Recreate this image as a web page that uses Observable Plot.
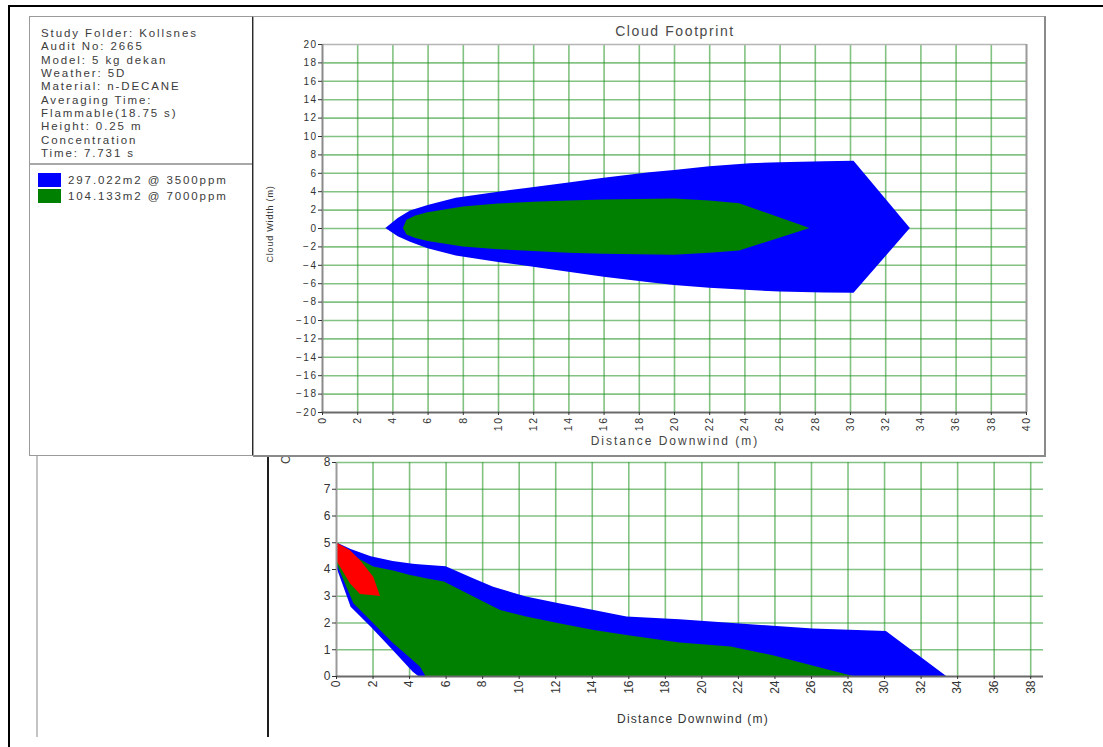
<!DOCTYPE html>
<html><head><meta charset="utf-8">
<script src="https://cdn.jsdelivr.net/npm/d3@7"></script>
<script src="https://cdn.jsdelivr.net/npm/@observablehq/plot@0.6"></script>
<style>
body{margin:0;background:#fff;font-family:"Liberation Sans",Arial,sans-serif;}
#page{position:relative;width:1103px;height:747px;overflow:hidden;background:#fff;}
.abs{position:absolute;}
.lbl{white-space:nowrap;color:#444;}
#info .line{height:13.35px;line-height:13.35px;font-size:11.5px;letter-spacing:1.9px;color:#3c3c3c;white-space:nowrap;}
</style></head>
<body><div id="page">
  <div id="bottomChart" class="abs" style="left:270px;top:440px;z-index:1"></div>
  <div class="abs lbl" id="bylabel" style="left:279px;top:464px;transform-origin:0 0;transform:rotate(-90deg);font-size:12px;letter-spacing:1px;color:#444;z-index:1"></div>
  <div class="abs" style="left:36px;top:455px;width:2px;height:282px;background:#c4c4c4;z-index:2"></div>
  <div class="abs" style="left:267px;top:455px;width:2px;height:282px;background:#1e1e1e;z-index:2"></div>
  <div class="abs lbl" id="bxlabel" style="left:693px;top:712px;transform:translateX(-50%);font-size:12px;letter-spacing:1.2px;color:#333;z-index:2"></div>

  <div id="info" class="abs" style="left:29px;top:16px;width:222px;height:438px;border:1px solid #9a9a9a;border-right:2px solid #2a2a2a;background:#fff;z-index:3">
    <div id="infoText" style="position:absolute;left:11px;top:10px;"></div>
    <div style="position:absolute;left:0;top:146px;width:222px;height:2px;background:#a8a8a8"></div>
    <div id="legend" style="position:absolute;left:8px;top:155px;"></div>
  </div>

  <div id="topPanel" class="abs" style="left:253px;top:16px;width:790px;height:438px;border:1px solid #a0a0a0;border-right:2px solid #8a8a8a;border-bottom:2px solid #8a8a8a;background:#fff;z-index:3"></div>
  <div id="topChart" class="abs" style="left:254px;top:17px;z-index:4"></div>
  <div class="abs lbl" id="title" style="left:675px;top:23px;transform:translateX(-50%);font-size:14px;letter-spacing:1.6px;color:#4a4a4a;z-index:5"></div>
  <div class="abs lbl" id="txlabel" style="left:675px;top:434px;transform:translateX(-50%);font-size:12px;letter-spacing:2px;color:#444;z-index:5"></div>
  <div class="abs lbl" id="tylabel" style="left:270px;top:224px;transform:translate(-50%,-50%) rotate(-90deg);font-size:9px;letter-spacing:0.8px;color:#333;z-index:5"></div>

  <div class="abs" style="left:8px;top:5px;width:1095px;height:2px;background:#000;z-index:6"></div>
  <div class="abs" style="left:8px;top:5px;width:2px;height:742px;background:#000;z-index:6"></div>
</div>
<script>
// ---------- texts ----------
const infoLines = ["Study Folder: Kollsnes","Audit No: 2665","Model: 5 kg dekan","Weather: 5D","Material: n-DECANE","Averaging Time:","Flammable(18.75 s)","Height: 0.25 m","Concentration","Time: 7.731 s"];
const legendLabels = ["297.022m2 @ 3500ppm","104.133m2 @ 7000ppm"];
const legendColors = ["#0000ff","#008000"];
const topTitle = "Cloud Footprint";
const xLabel = "Distance Downwind (m)";
const topYLabel = "Cloud Width (m)";
const sideYLabel = "Cloud Height (m)";

// ---------- top chart: cloud footprint (plan view) ----------
const footTicksX = d3.range(0, 41, 2);
const footTicksY = d3.range(-20, 21, 2);
const blueX    = [3.6, 4.3, 5.0, 6.0, 7.6, 10.0, 11.6, 14.0, 16.0, 18.6, 20.0, 22.0, 24.3, 26.0, 28.5, 30.2, 33.4];
const blueUp   = [0, 1.1, 1.9, 2.5, 3.3, 3.95, 4.35, 4.95, 5.45, 6.05, 6.3, 6.7, 7.05, 7.15, 7.25, 7.3, 0];
const blueDown = [0, -0.9, -1.5, -2.2, -3.0, -3.7, -4.1, -4.75, -5.3, -5.9, -6.2, -6.5, -6.75, -6.9, -7.0, -7.05, 0];
const greenX    = [4.6, 4.8, 5.3, 6.0, 8.0, 10.0, 12.0, 14.0, 16.0, 18.0, 20.0, 22.0, 23.7, 27.7];
const greenUp   = [0, 0.9, 1.35, 1.7, 2.35, 2.65, 2.85, 3.0, 3.1, 3.15, 3.2, 3.0, 2.7, 0];
const greenDown = [0, -0.7, -1.1, -1.4, -2.0, -2.3, -2.5, -2.7, -2.8, -2.85, -2.9, -2.7, -2.45, 0];

// ---------- bottom chart: cloud height (side view) ----------
const sideTicksX = d3.range(0, 39, 2);
const sideTicksY = d3.range(0, 9, 1);
const sBlueX  = [0, 0.8, 1.9, 3.1, 4.2, 4.5, 6.0, 7.5, 8.6, 10.4, 12.2, 14.1, 15.9, 18.8, 21.9, 26.1, 30.1, 33.4];
const sBlueHi = [5.0, 4.75, 4.48, 4.3, 4.2, 4.18, 4.1, 3.65, 3.34, 2.97, 2.72, 2.47, 2.22, 2.12, 1.97, 1.78, 1.68, 0];
const sBlueLo = [4.1, 2.59, 1.84, 0.97, 0.16, 0, 0, 0, 0, 0, 0, 0, 0, 0, 0, 0, 0, 0];
const sGreenX  = [0, 0.95, 2.04, 3.13, 4.05, 4.6, 4.9, 5.9, 7.52, 8.98, 10.4, 12.2, 14.1, 15.9, 18.8, 21.6, 23.9, 28.3];
const sGreenHi = [5.0, 4.5, 4.09, 3.94, 3.78, 3.7, 3.65, 3.53, 2.97, 2.47, 2.22, 1.97, 1.72, 1.53, 1.25, 1.1, 0.78, 0];
const sGreenLo = [4.25, 2.72, 1.97, 1.22, 0.68, 0.35, 0, 0, 0, 0, 0, 0, 0, 0, 0, 0, 0, 0];
const sRedX  = [0, 0.77, 1.31, 2.04, 2.41];
const sRedHi = [5.0, 4.7, 4.34, 3.71, 2.99];
const sRedLo = [4.34, 3.46, 3.07, 3.02, 2.99];

// ---------- text placement ----------
document.getElementById("infoText").innerHTML = infoLines.map(t => `<div class="line">${t}</div>`).join("");
document.getElementById("legend").innerHTML = legendLabels.map((t, i) =>
  `<div style="display:flex;align-items:center;height:16px;"><span style="display:inline-block;width:23px;height:14px;background:${legendColors[i]};margin-right:7px"></span><span style="font-size:11.5px;letter-spacing:1.9px;color:#3c3c3c;white-space:nowrap">${t}</span></div>`).join("");
document.getElementById("title").textContent = topTitle;
document.getElementById("txlabel").textContent = xLabel;
document.getElementById("bxlabel").textContent = xLabel;
document.getElementById("tylabel").textContent = topYLabel;
document.getElementById("bylabel").textContent = sideYLabel;

const rows = (xs, lo, hi) => xs.map((x, i) => ({x, y1: lo[i], y2: hi[i]}));
const gridStyle = {stroke: "#2f9a2f", strokeOpacity: 0.6, strokeWidth: 1.6};

// top chart
const topPlot = Plot.plot({
  width: 790, height: 437,
  marginLeft: 68, marginRight: 18, marginTop: 27, marginBottom: 42,
  style: {background: "transparent", fontFamily: "Liberation Sans, Arial, sans-serif", fontSize: "10px", color: "#333", letterSpacing: "1.5px"},
  x: {domain: [0, 40]},
  y: {domain: [-20, 20]},
  marks: [
    Plot.ruleX(footTicksX.filter(d => d > 0 && d < 40), {...gridStyle}),
    Plot.ruleY(footTicksY.filter(d => d > -20 && d < 20), {...gridStyle}),
    Plot.areaY(rows(blueX, blueDown, blueUp), {x: "x", y1: "y1", y2: "y2", fill: "#0000ff"}),
    Plot.areaY(rows(greenX, greenDown, greenUp), {x: "x", y1: "y1", y2: "y2", fill: "#008000"}),
    Plot.ruleY([20], {stroke: "#b5b5b5", strokeWidth: 1.5}),
    Plot.ruleX([40], {stroke: "#9a9a9a", strokeWidth: 2}),
    Plot.ruleX([0], {stroke: "#8a8a8a", strokeWidth: 2}),
    Plot.ruleY([-20], {stroke: "#6a6a6a", strokeWidth: 2}),
    Plot.axisX({ticks: footTicksX, tickRotate: -90, tickSize: 3, tickPadding: 1, label: null, fontSize: 10.5}),
    Plot.axisY({ticks: footTicksY, tickSize: 4, tickPadding: 1, label: null})
  ]
});
document.getElementById("topChart").appendChild(topPlot);

// bottom chart
const sidePlot = Plot.plot({
  width: 833, height: 307,
  marginLeft: 66, marginRight: 60, marginTop: 22, marginBottom: 71,
  style: {background: "transparent", fontFamily: "Liberation Sans, Arial, sans-serif", fontSize: "12px", color: "#333"},
  x: {domain: [0, 38.7]},
  y: {domain: [0, 8]},
  marks: [
    Plot.ruleX(sideTicksX.filter(d => d > 0), {...gridStyle}),
    Plot.ruleY(sideTicksY.filter(d => d > 0), {...gridStyle}),
    Plot.areaY(rows(sBlueX, sBlueLo, sBlueHi), {x: "x", y1: "y1", y2: "y2", fill: "#0000ff"}),
    Plot.areaY(rows(sGreenX, sGreenLo, sGreenHi), {x: "x", y1: "y1", y2: "y2", fill: "#008000"}),
    Plot.areaY(rows(sRedX, sRedLo, sRedHi), {x: "x", y1: "y1", y2: "y2", fill: "#ff0000"}),
    Plot.ruleX([0], {stroke: "#9a9a9a", strokeWidth: 2}),
    Plot.ruleY([0], {stroke: "#6a6a6a", strokeWidth: 2}),
    Plot.axisX({ticks: sideTicksX, tickRotate: -90, tickSize: 3, tickPadding: 1, label: null}),
    Plot.axisY({ticks: sideTicksY, tickSize: 4, tickPadding: 2, label: null})
  ]
});
document.getElementById("bottomChart").appendChild(sidePlot);
</script>
</body></html>
